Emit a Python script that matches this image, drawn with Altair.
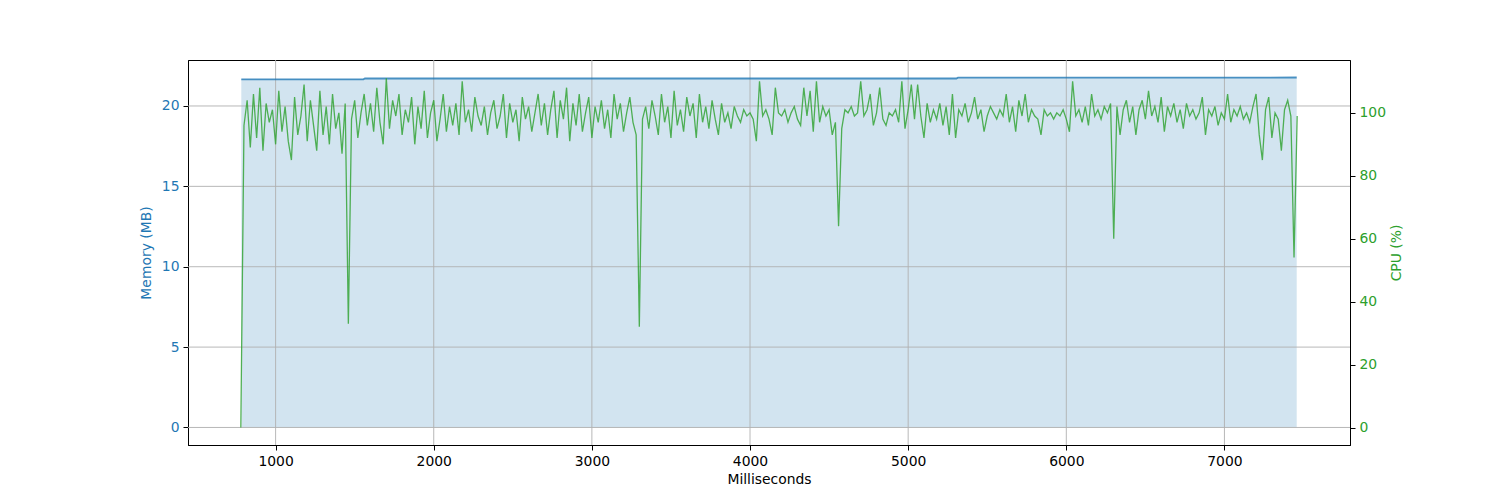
import altair as alt
import pandas as pd

# -----------------------
# Data
# -----------------------
# memory (MB) sampled at a few times (ms), near-flat with two small steps
mem_ms = [783, 1555, 1565, 5305, 5315, 7457]
mem_mb = [21.66, 21.66, 21.71, 21.71, 21.76, 21.77]

# cpu (%) sampled every 20 ms starting at 780 ms
cpu_start_ms = 780
cpu_step_ms = 20
cpu_pct = [
    0, 96, 104, 89, 106, 92, 108, 88, 103, 97, 101, 90, 107, 94, 102, 91, 85, 105, 93, 99,
    109, 91, 104, 96, 88, 107, 93, 102, 90, 106, 95, 100, 87, 103, 33, 98, 104, 92, 100, 106,
    96, 103, 94, 108, 97, 90, 111, 95, 104,
    99, 106, 93, 101, 97, 105, 90, 102, 95, 107, 92, 100, 104, 91, 98, 106, 94, 102, 96, 103,
    93, 110, 97, 101, 94, 105, 99, 96, 102, 93, 100, 104, 95, 99, 106, 92, 103, 97, 101, 91,
    105, 98, 102, 94, 100, 106, 96, 103, 93,
    101, 107, 92, 104, 98, 108, 91, 103, 96, 106, 94, 100, 105, 92, 102, 97, 104, 95, 101, 92,
    106, 98, 103, 94, 100, 105, 97, 93, 32, 98, 102, 95, 104, 99, 93, 106, 97, 102, 92, 107,
    96, 101, 94, 105, 99, 103, 92, 106, 97,
    102, 95, 104, 98, 93, 103, 97, 100, 95, 102, 99, 97, 101, 99, 100, 98, 91, 110, 99, 101,
    98, 93, 108, 100, 99, 101, 97, 100, 102, 98, 96, 108, 99, 107, 94, 110, 97, 102, 99, 101,
    93, 97, 64, 95, 101, 100, 102, 99, 100,
    110, 99, 101, 106, 96, 100, 108, 98, 96, 100, 99, 101, 97, 110, 95, 101, 109, 98, 109, 99,
    92, 103, 97, 101, 98, 103, 96, 102, 93, 106, 92, 101, 99, 103, 97, 100, 105, 98, 101, 94,
    99, 102, 100, 98,
    101, 99, 106, 97, 102, 94, 104, 99, 106, 97, 101, 99, 98, 93, 101, 99, 100, 98, 100, 99,
    101, 98, 94, 110, 99, 101, 97, 102, 96, 106, 99, 101, 98, 102, 100, 103, 60, 102, 93, 101,
    104, 97, 102, 93, 101, 104, 98, 107, 99,
    102, 97, 105, 94, 102, 99, 103, 97, 101, 95, 103, 99, 101, 98, 100, 105, 93, 101, 99, 102,
    96, 100, 98, 106, 97, 101, 99, 102, 98, 100, 97, 102, 106, 93, 85, 101, 105, 92, 100, 98,
    88, 101, 104, 99, 54, 99,
]

x_ticks = [1000, 2000, 3000, 4000, 5000, 6000, 7000]
mem_ticks = [0, 5, 10, 15, 20]
cpu_ticks = [0, 20, 40, 60, 80, 100]

mem_df = pd.DataFrame({"ms": mem_ms, "mem": mem_mb})
cpu_df = pd.DataFrame({
    "ms": [cpu_start_ms + cpu_step_ms * i for i in range(len(cpu_pct))],
    "cpu": cpu_pct,
})
xgrid_df = pd.DataFrame({"ms": x_ticks})
ygrid_df = pd.DataFrame({"mem": mem_ticks})

BLUE = "#1f77b4"
GREEN = "#2ca02c"

x_scale = alt.Scale(domain=[446, 7794], nice=False, zero=False)
mem_scale = alt.Scale(domain=[-1.09, 22.86], nice=False, zero=False)
cpu_scale = alt.Scale(domain=[-5.56, 116.8], nice=False, zero=False)

x_axis = alt.Axis(values=x_ticks, format="d", title="Milliseconds", titlePadding=5)
mem_axis = alt.Axis(values=mem_ticks, format="d", title="Memory (MB)",
                    labelColor=BLUE, titleColor=BLUE, titlePadding=8)
cpu_axis = alt.Axis(values=cpu_ticks, format="d", title="CPU (%)", orient="right",
                    labelColor=GREEN, titleColor=GREEN, titleAngle=270, titlePadding=18)

X = alt.X("ms:Q", scale=x_scale, axis=x_axis)
Y_MEM = alt.Y("mem:Q", scale=mem_scale, axis=mem_axis)

# -----------------------
# Memory side (left axis)
# -----------------------
area = (
    alt.Chart(mem_df)
    .mark_area(color=BLUE, opacity=0.2, interpolate="linear")
    .encode(x=X, y=Y_MEM)
)

xgrid = (
    alt.Chart(xgrid_df)
    .mark_rule(color="#b0b0b0", strokeWidth=0.9)
    .encode(x=X)
)

ygrid = (
    alt.Chart(ygrid_df)
    .mark_rule(color="#b0b0b0", strokeWidth=0.9)
    .encode(y=Y_MEM)
)

mem_line = (
    alt.Chart(mem_df)
    .mark_line(color=BLUE, opacity=0.8, strokeWidth=1.8)
    .encode(x=X, y=Y_MEM)
)

left = alt.layer(area, xgrid, ygrid, mem_line)

# -----------------------
# CPU side (right axis)
# -----------------------
cpu_line = (
    alt.Chart(cpu_df)
    .mark_line(color=GREEN, opacity=0.8, strokeWidth=1.3)
    .encode(
        x=X,
        y=alt.Y("cpu:Q", scale=cpu_scale, axis=cpu_axis),
    )
)

chart = (
    alt.layer(left, cpu_line)
    .resolve_scale(y="independent")
    .properties(
        width=1162,
        height=385,
        autosize="none",
        padding={"left": 180, "top": 52, "right": 142, "bottom": 47},
    )
    .configure_axis(
        labelFont="DejaVu Sans",
        titleFont="DejaVu Sans",
        labelFontSize=13.9,
        titleFontSize=13.9,
        titleFontWeight="normal",
        labelColor="black",
        titleColor="black",
        tickColor="black",
        domainColor="black",
        tickSize=5,
        tickWidth=1,
        domainWidth=1,
        labelPadding=4,
        grid=False,
    )
    .configure_view(stroke="black", strokeWidth=1)
)

chart.save("out.html", embed_options={"renderer": "svg", "actions": False})
